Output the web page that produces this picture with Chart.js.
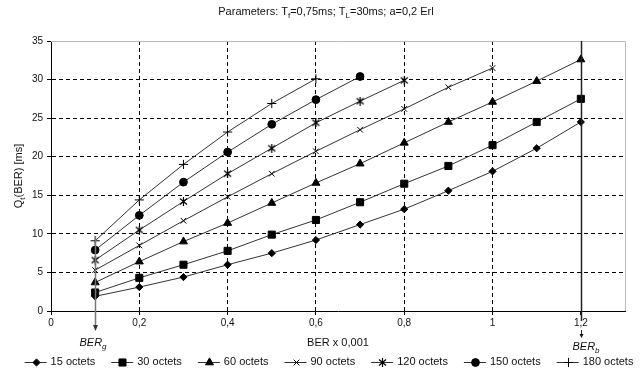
<!DOCTYPE html>
<html>
<head>
<meta charset="utf-8">
<script src="https://cdn.jsdelivr.net/npm/chart.js@4.4.0/dist/chart.umd.min.js"></script>
<style>
    html, body { margin: 0; padding: 0; background: #fff; }
</style>
</head>
<body>
<canvas id="chart" width="642" height="376"></canvas>
<script>
// BER x 0,001 values on the x axis
const berValues = [0.1, 0.2, 0.3, 0.4, 0.5, 0.6, 0.7, 0.8, 0.9, 1.0, 1.1, 1.2];

// Qt(BER) [ms] for each packet length
const octets15  = [1.9, 3.1, 4.4, 6.0, 7.5, 9.2, 11.2, 13.2, 15.6, 18.1, 21.1, 24.5];
const octets30  = [2.4, 4.3, 6.0, 7.8, 9.9, 11.8, 14.1, 16.5, 18.8, 21.5, 24.5, 27.5];
const octets60  = [3.7, 6.4, 9.0, 11.4, 14.0, 16.6, 19.1, 21.8, 24.5, 27.1, 29.8, 32.6];
const octets90  = [5.3, 8.5, 11.7, 14.8, 17.8, 20.7, 23.5, 26.2, 29.0, 31.5];
const octets120 = [6.6, 10.5, 14.2, 17.8, 21.1, 24.4, 27.2, 29.9];
const octets150 = [7.9, 12.4, 16.7, 20.6, 24.2, 27.4, 30.4];
const octets180 = [9.1, 14.4, 19.0, 23.2, 26.9, 30.1];

const seriesLabels = ['15 octets', '30 octets', '60 octets', '90 octets', '120 octets', '150 octets', '180 octets'];
const seriesValues = [octets15, octets30, octets60, octets90, octets120, octets150, octets180];

const FONT = "'Liberation Sans', Arial, sans-serif";
Chart.defaults.font.family = FONT;
Chart.defaults.font.size = 10;
Chart.defaults.color = '#111';

// asterisk marker: x-cross with a vertical bar
function makeAsterisk() {
    const c = document.createElement('canvas');
    c.width = 9; c.height = 9;
    const g = c.getContext('2d');
    g.strokeStyle = '#000';
    g.lineWidth = 1.2;
    g.beginPath();
    g.moveTo(1, 1.5); g.lineTo(8, 7.5);
    g.moveTo(8, 1.5); g.lineTo(1, 7.5);
    g.moveTo(4.5, 0); g.lineTo(4.5, 9);
    g.stroke();
    return c;
}

const markerStyles = ['rectRot', 'rect', 'triangle', 'crossRot', makeAsterisk(), 'circle', 'cross'];
const markerSizes  = [3.6, 5, 4.6, 4, 5, 3.9, 4.6];

const datasets = seriesValues.map((values, s) => ({
    label: seriesLabels[s],
    data: values.map((v, i) => ({ x: berValues[i], y: v })),
    borderColor: '#333',
    borderWidth: 1,
    backgroundColor: '#000',
    pointStyle: markerStyles[s],
    pointRadius: markerSizes[s],
    pointBorderColor: '#000',
    pointBackgroundColor: '#000',
    pointBorderWidth: 1,
    tension: 0
}));

// text with subscripts: parts = [[text, isSub], ...]
function drawRich(ctx, parts, x, y, size, italic, align) {
    const style = italic ? 'italic ' : '';
    const subSize = Math.round(size * 0.75);
    let total = 0;
    parts.forEach(([t, sub]) => {
        ctx.font = `${style}${sub ? subSize : size}px ${FONT}`;
        total += ctx.measureText(t).width;
    });
    let cx = align === 'center' ? x - total / 2 : x;
    ctx.textAlign = 'left';
    ctx.textBaseline = 'middle';
    parts.forEach(([t, sub]) => {
        ctx.font = `${style}${sub ? subSize : size}px ${FONT}`;
        ctx.fillText(t, cx, sub ? y + size * 0.35 : y);
        cx += ctx.measureText(t).width;
    });
}

function arrowDown(ctx, x, yTip, w, h) {
    ctx.beginPath();
    ctx.moveTo(x, yTip);
    ctx.lineTo(x - w, yTip - h);
    ctx.lineTo(x + w, yTip - h);
    ctx.closePath();
    ctx.fill();
}

const decorPlugin = {
    id: 'decor',
    afterDraw(chart) {
        const ctx = chart.ctx;
        const area = chart.chartArea;
        const xs = chart.scales.x;
        const ys = chart.scales.y;
        ctx.save();

        // light frame top / right
        ctx.strokeStyle = '#bbb';
        ctx.lineWidth = 1;
        ctx.beginPath();
        ctx.moveTo(Math.round(area.left), Math.round(area.top) + 0.5);
        ctx.lineTo(Math.round(area.right) + 0.5, Math.round(area.top) + 0.5);
        ctx.lineTo(Math.round(area.right) + 0.5, Math.round(area.bottom));
        ctx.stroke();

        ctx.fillStyle = '#111';
        // title
        drawRich(ctx, [['Parameters: T', false], ['f', true], ['=0,75ms; T', false], ['L', true], ['=30ms; a=0,2 Erl', false]],
            326, 12, 11, false, 'center');

        // y title
        ctx.save();
        ctx.translate(19, (area.top + area.bottom) / 2);
        ctx.rotate(-Math.PI / 2);
        drawRich(ctx, [['Q', false], ['t', true], ['(BER) [ms]', false]], 0, 0, 11, false, 'center');
        ctx.restore();

        // x title
        drawRich(ctx, [['BER x 0,001', false]], (area.left + area.right) / 2, 343, 11, false, 'center');

        // BER_g marker
        const xg = Math.round(xs.getPixelForValue(berValues[0])) + 0.5;
        ctx.strokeStyle = '#777';
        ctx.lineWidth = 1.5;
        ctx.beginPath();
        ctx.moveTo(xg, ys.getPixelForValue(9.7));
        ctx.lineTo(xg, 326);
        ctx.stroke();
        ctx.fillStyle = '#333';
        arrowDown(ctx, xg, 331, 2.5, 6);
        ctx.fillStyle = '#111';
        drawRich(ctx, [['BER', false], ['g', true]], xg - 16, 343, 11, true, 'left');

        // BER_b marker
        const xb = Math.round(xs.getPixelForValue(berValues[berValues.length - 1])) + 0.5;
        ctx.strokeStyle = '#222';
        ctx.lineWidth = 1.5;
        ctx.beginPath();
        ctx.moveTo(xb, area.top);
        ctx.lineTo(xb, 321);
        ctx.stroke();
        ctx.lineWidth = 1;
        ctx.beginPath();
        ctx.moveTo(xb, 330);
        ctx.lineTo(xb, 336);
        ctx.stroke();
        ctx.fillStyle = '#111';
        arrowDown(ctx, xb, 338, 2, 4);
        drawRich(ctx, [['BER', false], ['b', true]], xb - 9, 347, 11, true, 'left');

        // legend
        const ly = 362;
        const symW = 22, textGap = 4, itemGap = 16;
        ctx.font = `11px ${FONT}`;
        const widths = seriesLabels.map(t => ctx.measureText(t).width);
        const total = widths.reduce((a, b) => a + b, 0) + seriesLabels.length * (symW + textGap) + (seriesLabels.length - 1) * itemGap;
        let lx = 329 - total / 2;
        seriesLabels.forEach((label, s) => {
            ctx.strokeStyle = '#333';
            ctx.lineWidth = 1;
            ctx.beginPath();
            ctx.moveTo(lx, ly + 0.5);
            ctx.lineTo(lx + symW, ly + 0.5);
            ctx.stroke();
            ctx.fillStyle = '#000';
            ctx.strokeStyle = '#000';
            Chart.helpers.drawPoint(ctx, {
                pointStyle: markerStyles[s],
                radius: markerSizes[s],
                borderWidth: 1,
                rotation: 0
            }, Math.round(lx + symW / 2) + 0.5, ly + 0.5);
            ctx.fillStyle = '#111';
            ctx.font = `11px ${FONT}`;
            ctx.textAlign = 'left';
            ctx.textBaseline = 'middle';
            ctx.fillText(label, lx + symW + textGap, ly);
            lx += symW + textGap + widths[s] + itemGap;
        });

        ctx.restore();
    }
};

const fmt = v => {
    const r = Math.round(v * 10) / 10;
    return r.toString().replace('.', ',');
};

new Chart(document.getElementById('chart').getContext('2d'), {
    type: 'line',
    data: { datasets: datasets },
    options: {
        responsive: false,
        devicePixelRatio: 1,
        animation: false,
        layout: { padding: { top: 41, right: 17, bottom: 0, left: 0 } },
        plugins: {
            legend: { display: false },
            tooltip: { enabled: false }
        },
        scales: {
            x: {
                type: 'linear',
                min: 0,
                max: 1.3,
                afterFit: s => { s.height = 65; },
                ticks: {
                    stepSize: 0.2,
                    includeBounds: false,
                    padding: 2,
                    color: '#111',
                    callback: v => fmt(v)
                },
                grid: {
                    color: ctx => (ctx.tick && ctx.tick.value > 1.1) ? 'rgba(0,0,0,0)' : '#000',
                    tickColor: '#000',
                    tickLength: 4,
                    lineWidth: 1
                },
                border: { display: true, color: '#000', width: 1, dash: [4, 3] }
            },
            y: {
                min: 0,
                max: 35,
                afterFit: s => { s.width = 51; },
                ticks: {
                    stepSize: 5,
                    padding: 4,
                    color: '#111'
                },
                grid: {
                    color: ctx => (ctx.tick && (ctx.tick.value === 35)) ? 'rgba(0,0,0,0)' : '#000',
                    tickColor: '#000',
                    tickLength: 4,
                    lineWidth: 1
                },
                border: { display: true, color: '#000', width: 1, dash: [4, 3] }
            }
        }
    },
    plugins: [decorPlugin]
});
</script>
</body>
</html>
